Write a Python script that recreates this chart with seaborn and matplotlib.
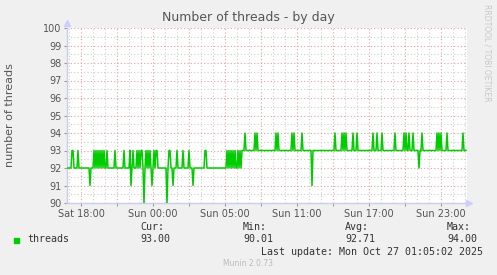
import numpy as np
import pandas as pd
import matplotlib
matplotlib.use("Agg")
import matplotlib.pyplot as plt
from matplotlib.ticker import MultipleLocator
import seaborn as sns

# ---- data (5-minute samples) ----
threads = [
    92,92,92,92,92,93,93,92,92,92, 92,93,92,92,92,92,92,92,92,92, 92,92,92,91,92,92,92,93,92,93, 92,93,92,93,92,93,92,93,92,92,
    93,92,92,92,92,92,92,92,93,92, 92,92,92,92,92,92,92,93,92,92, 92,92,92,93,91,92,93,92,92,92, 93,92,93,92,93,93,92,90,92,93,
    92,93,92,93,92,91,92,93,92,93, 93,92,92,92,92,92,92,92,92,92, 90,92,93,93,92,92,91,92,92,92, 93,92,92,92,92,92,93,92,92,92,
    92,92,93,92,92,92,91,92,92,92, 92,92,92,92,92,92,92,92,93,93, 92,92,92,92,92,92,92,92,92,92, 92,92,92,92,92,92,92,92,92,92,
    93,92,93,92,93,92,93,92,93,92, 92,93,92,93,92,93,93,93,94,93, 93,93,93,93,93,93,93,93,94,93, 94,93,93,93,93,93,93,93,93,93,
    93,93,93,93,93,93,93,93,93,94, 93,94,93,93,93,93,93,93,93,93, 93,93,93,93,93,94,93,94,93,93, 93,93,93,93,93,94,93,93,93,93,
    93,93,93,93,93,91,93,93,93,93, 93,93,93,93,93,93,93,93,93,93, 93,93,93,93,93,93,93,93,94,93, 93,93,93,93,93,94,93,94,93,94,
    93,93,93,93,93,93,94,93,93,93, 94,93,93,93,93,93,93,93,93,93, 93,93,93,93,93,93,94,93,93,93, 94,93,93,93,93,94,93,93,93,93,
    93,93,93,93,93,93,93,93,94,93, 93,93,93,93,93,93,93,94,93,94, 93,93,94,93,93,93,94,93,93,93, 93,93,92,93,93,94,93,93,93,93,
    93,93,93,93,93,93,93,93,93,93, 94,93,94,93,94,93,93,93,93,93, 94,93,93,93,93,93,93,93,93,93, 93,93,93,93,93,93,94,93,93,93,
]
tick_hours = [0, 6, 12, 18, 24, 30]
tick_labels = ["Sat 18:00", "Sun 00:00", "Sun 05:00", "Sun 11:00", "Sun 17:00", "Sun 23:00"]
legend_name = "threads"
stat_heads = ["Cur:", "Min:", "Avg:", "Max:"]
stat_values = ["93.00", "90.01", "92.71", "94.00"]
title = "Number of threads - by day"
ylabel = "number of threads"
last_update = "Last update: Mon Oct 27 01:05:02 2025"
footer = "Munin 2.0.73"
side_text = "RRDTOOL / TOBI OETIKER"

# ---- figure ----
W, H = 497, 275
fig = plt.figure(figsize=(W / 100, H / 100), dpi=100)
fig.patch.set_facecolor("#F0F0F0")
L, R, T, B = 67, 467, 28, 203
ax = fig.add_axes([L / W, 1 - B / H, (R - L) / W, (B - T) / H])
ax.set_facecolor("white")

x0 = -14 / 12  # left edge in hours relative to Sat 18:00
hours = x0 + np.arange(len(threads)) / 12.0
df = pd.DataFrame({"hours": hours, "threads": threads})

sns.lineplot(data=df, x="hours", y="threads", ax=ax, color="#00CC00",
             linewidth=1.1, zorder=5)

ax.set_xlim(x0, x0 + 400 / 12)
ax.set_ylim(90, 100)

# grids
major_x = np.arange(0, 33, 3)
ax.set_xticks(major_x)
ax.set_xticklabels([tick_labels[tick_hours.index(h)] if h in tick_hours else "" for h in major_x])
ax.xaxis.set_minor_locator(MultipleLocator(1))
ax.yaxis.set_major_locator(MultipleLocator(1))
ax.yaxis.set_minor_locator(MultipleLocator(0.5))
ax.grid(which="minor", color="#cccccc", linestyle=(0, (1, 2)), linewidth=0.8, zorder=1)
ax.grid(which="major", color="#e8a0a0", linestyle=(0, (1, 2)), linewidth=0.8, zorder=2)
ax.set_axisbelow(True)

for s in ("top", "right"):
    ax.spines[s].set_visible(False)
for s in ("left", "bottom"):
    ax.spines[s].set_color("#ccccee")
    ax.spines[s].set_linewidth(1.0)

ax.tick_params(axis="both", which="major", length=2, color="#999999",
               labelsize=7, labelcolor="#555555", pad=2)
ax.tick_params(axis="both", which="minor", length=0)
ax.set_xlabel("")
ax.set_ylabel("")

# arrows
ax.plot([x0], [100.3], marker="^", color="#ccccff", markersize=4, clip_on=False, zorder=6)
ax.plot([x0 + 400 / 12 + 0.2], [90], marker=">", color="#ccccff", markersize=4, clip_on=False, zorder=6)

def fx(px):
    return px / W

def fy(py):
    return 1 - py / H

fig.text(fx(248), fy(18), title, ha="center", va="center", fontsize=9, color="#555555")
fig.text(fx(10), fy(115), ylabel, ha="center", va="center", rotation=90, fontsize=8, color="#555555")
fig.text(fx(487), fy(53), side_text, ha="center", va="center", rotation=270, fontsize=5.5, color="#c8c8c8")

mono = "DejaVu Sans Mono"
fig.patches.append(plt.Rectangle((fx(14), fy(243)), 5 / W, 5 / H, transform=fig.transFigure,
                                 color="#00CC00", figure=fig))
fig.text(fx(27), fy(239), legend_name, ha="left", va="center", fontsize=7.2, family=mono, color="#333333")
for xp, head, val in zip([140, 243, 345, 447], stat_heads, stat_values):
    fig.text(fx(xp), fy(227), head, ha="left", va="center", fontsize=7.2, family=mono, color="#333333")
    fig.text(fx(xp), fy(239), val, ha="left", va="center", fontsize=7.2, family=mono, color="#333333")
fig.text(fx(483), fy(252), last_update, ha="right", va="center", fontsize=7.2, family=mono, color="#333333")
fig.text(fx(248), fy(264), footer, ha="center", va="center", fontsize=5.5, color="#bbbbbb")

fig.savefig("out.png", dpi=100, facecolor=fig.get_facecolor())
